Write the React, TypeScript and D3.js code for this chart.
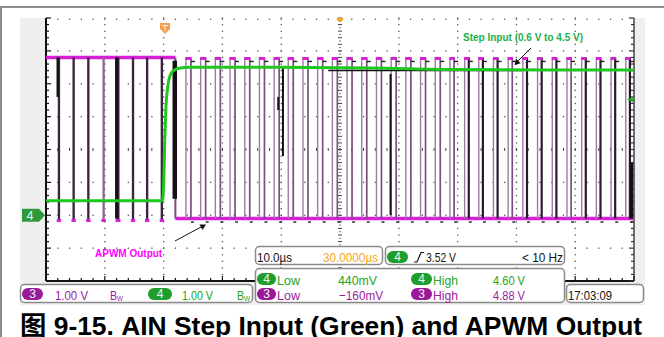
import React from 'react';
import * as d3 from 'd3';

// ---- data ----
const timeDomain = [0, 100]; // µs, 10 µs/div
const divDomain = [-4, 4]; // vertical divisions
const ch3Offset = -2; // div
const ch4Offset = -2; // div

const ch3High = 4.8; // V
const ch3Low = -0.1; // V

// narrow low pulses before the step (µs)
const preLowPulseT = [2.0, 4.5, 7.0, 9.6, 12.0, 14.6, 17.0, 19.5];
const preLowPulseW = [0.4, 0.4, 0.4, 0.4, 0.5, 0.4, 0.4, 0.4];
const preLowPulseDark = [1, 1, 1, 0, 1, 1, 1, 1];
const stepFallT = 22.0;

// narrow high pulses after the step (µs)
const postPulseT = [23.8, 26.3, 28.8, 31.3, 33.8, 36.3, 38.8, 41.2, 43.7, 46.2, 48.7, 51.2, 53.7, 56.2, 58.7, 61.2, 63.7, 66.2, 68.7, 71.2, 73.6, 76.1, 78.6, 81.1, 83.6, 86.1, 88.6, 91.1, 93.6, 96.1, 98.6];
const postPulseW = [0.85, 0.85, 0.85, 0.85, 0.85, 0.85, 0.85, 0.85, 0.85, 0.85, 0.85, 0.85, 0.85, 0.85, 0.85, 0.85, 0.85, 0.85, 0.7, 0.7, 0.7, 0.7, 0.7, 0.7, 0.7, 0.7, 0.7, 0.7, 0.7, 0.7, 0.7];
const postPulseDark = [0, 0, 0, 0, 0, 0, 0, 0, 0, 0, 0, 0, 0, 0, 0, 0, 0, 0, 0, 1, 1, 1, 0, 1, 1, 1, 0, 1, 1, 1, 1];

// green step input (ch4)
const greenT = [0, 19.8, 20.0, 20.2, 20.4, 20.7, 21.1, 21.7, 22.6, 24.5, 40, 55, 70, 85, 100];
const greenV = [0.44, 0.44, 0.9, 2.3, 3.3, 3.9, 4.25, 4.4, 4.47, 4.5, 4.5, 4.48, 4.43, 4.42, 4.42];

// black persistence traces: [t, v1, v2, widthPx]
const ghostT = [2.0, 12.0, 21.9, 39.5, 40.3, 58.6, 99.6];
const ghostV1 = [4.8, 4.8, 4.7, 3.6, 4.5, 4.3, 1.6];
const ghostV2 = [3.6, -0.1, 0.5, 3.2, 1.8, 0.0, -0.1];
const ghostW = [2.5, 3, 4.5, 2, 2, 2, 3];
// black trace along the green plateau
const ghostLineT = [48, 81];
const ghostLineV = 4.45;

const trigLevel = 3.52; // V

const CAPTION = '图 9-15. AIN Step Input (Green) and APWM Output';

const PURPLE = '#9b1b9b';
const GREEN_TXT = '#22a622';
const MAGENTA = '#d81fd8';
const GREEN = '#1ec81e';

function Pill({ x, y, w, h, fill, label }: { x: number; y: number; w: number; h: number; fill: string; label: string }) {
  return (
    <g>
      <rect x={x} y={y} width={w} height={h} rx={h / 2} fill={fill} />
      <text x={x + w / 2} y={y + h - 2.2} fill="#f4f4f4" fontSize={12} textAnchor="middle" fontFamily="'Liberation Sans', Arial, sans-serif">{label}</text>
    </g>
  );
}

function NText({ x, y, len, fill, size = 13.5, children, anchor }: any) {
  return (
    <text x={x} y={y} fill={fill} fontSize={size} textLength={len} lengthAdjust="spacingAndGlyphs" textAnchor={anchor}
      fontFamily="'Liberation Sans Narrow', 'Liberation Sans', Arial, sans-serif">{children}</text>
  );
}

export default function App() {
  const xS = d3.scaleLinear().domain(timeDomain).range([46, 634]);
  const yS = d3.scaleLinear().domain(divDomain).range([281, 18]);
  const y3 = (v: number) => yS(v + ch3Offset);
  const y4 = (v: number) => yS(v + ch4Offset);
  const hiY = y3(ch3High);
  const loY = y3(ch3Low);

  const minorX = d3.range(0, 51).map((i) => xS(i * 2));
  const minorY = d3.range(0, 41).map((i) => yS(-4 + i * 0.2));
  const majorX = d3.range(1, 10).map((i) => xS(i * 10));
  const majorY = d3.range(0, 8).map((i) => yS(4 - i));
  const cx = xS(50);
  const cy = yS(0);

  const dots: JSX.Element[] = [];
  majorY.forEach((yy, i) => {
    if (Math.abs(yy - cy) < 0.1) return;
    minorX.forEach((xx, j) => {
      if (j === 0 || j === 50) return;
      dots.push(<rect key={`h${i}-${j}`} x={xx - 0.6} y={yy + (i === 0 ? 0.6 : -0.6)} width={1.3} height={1.3} fill="#555" />);
    });
  });
  majorX.forEach((xx, i) => {
    if (Math.abs(xx - cx) < 0.1) return;
    minorY.forEach((yy, j) => {
      dots.push(<rect key={`v${i}-${j}`} x={xx - 0.6} y={yy - 0.6} width={1.3} height={1.3} fill="#555" />);
    });
  });
  // center crosshair
  const center: JSX.Element[] = [];
  d3.range(0, 81).forEach((i) => {
    const yy = yS(-4 + i * 0.1);
    center.push(<line key={`cv${i}`} x1={cx - (i % 2 === 0 ? 2 : 0.7)} x2={cx + (i % 2 === 0 ? 2 : 0.7)} y1={yy} y2={yy} stroke="#444" strokeWidth={1} />);
  });
  minorX.forEach((xx, j) => {
    if (j === 0 || j === 50) return;
    center.push(<line key={`ch${j}`} x1={xx} x2={xx} y1={cy - 1.5} y2={cy + 1.5} stroke="#444" strokeWidth={1} />);
  });

  const greenLine = d3.line<number>().x((_, i) => xS(greenT[i])).y((v) => y4(v)).curve(d3.curveMonotoneX)(greenV) || '';

  const pre = preLowPulseT.map((t, i) => {
    const x0 = xS(t);
    const x1 = xS(t + preLowPulseW[i]);
    const col = preLowPulseDark[i] ? '#3e2340' : '#8a6a8c';
    return (
      <g key={`pre${i}`}>
        <rect x={x0} y={hiY} width={x1 - x0} height={loY - hiY + 2} fill={col} />
        <line x1={x0 - 1} x2={x1 + 1} y1={loY + 2} y2={loY + 2} stroke={MAGENTA} strokeWidth={3} />
      </g>
    );
  });

  const post = postPulseT.map((t, i) => {
    const x0 = xS(t);
    const x1 = xS(t + postPulseW[i]);
    const dark = postPulseDark[i];
    return (
      <g key={`post${i}`}>
        <line x1={x0} x2={x0} y1={hiY} y2={loY} stroke="#a07aa4" strokeWidth={1.4} />
        <line x1={x1} x2={x1} y1={hiY} y2={loY} stroke={dark ? '#2a1a2c' : '#7a4f7e'} strokeWidth={dark ? 2.2 : 1.7} />
        <line x1={x0 - 0.5} x2={x1 + 0.5} y1={hiY + 1} y2={hiY + 1} stroke={MAGENTA} strokeWidth={3} />
        <line x1={x1} x2={x1 + 4} y1={hiY + 4} y2={hiY + 4} stroke="#222" strokeWidth={1.4} />
        <line x1={x1} x2={x1 + 3} y1={loY + 3.5} y2={loY + 3.5} stroke="#222" strokeWidth={1.4} />
      </g>
    );
  });

  const ghosts = ghostT.map((t, i) => (
    <line key={`g${i}`} x1={xS(t)} x2={xS(t)} y1={y3(ghostV1[i])} y2={y3(ghostV2[i])} stroke="#141014" strokeWidth={ghostW[i]} />
  ));

  const tickL = minorY.map((yy, i) => (
    <line key={`tl${i}`} x1={46} x2={46 + (i % 5 === 0 ? 5 : 3)} y1={yy} y2={yy} stroke="#111" strokeWidth={1.2} />
  ));
  const tickR = minorY.map((yy, i) => (
    <line key={`tr${i}`} x1={634} x2={634 - (i % 5 === 0 ? 5 : 3)} y1={yy} y2={yy} stroke="#333" strokeWidth={1.2} />
  ));
  const tickB = minorX.map((xx, i) => (
    <line key={`tb${i}`} x1={xx} x2={xx} y1={281} y2={281 - (i % 5 === 0 ? 5 : 3)} stroke="#111" strokeWidth={1.2} />
  ));

  const trigY = y4(trigLevel);
  const ch4Gnd = y4(0);

  return (
    <svg width={664} height={337} style={{ position: 'absolute', left: 0, top: 0 }} fontFamily="'Liberation Sans', Arial, sans-serif">
      <rect x={0} y={0} width={664} height={337} fill="#fff" />
      <path d="M1,337 V7 H664" fill="none" stroke="#8c8c8c" strokeWidth={2} />
      <rect x={20} y={18} width={625} height={287} fill="#efefef" />
      <rect x={46} y={18} width={588} height={263} fill="#fff" />

      {dots}
      {center}

      {/* axes */}
      <line x1={46} x2={46} y1={18} y2={281} stroke="#111" strokeWidth={2} />
      <line x1={46} x2={634} y1={281} y2={281} stroke="#111" strokeWidth={2} />
      <line x1={634} x2={634} y1={18} y2={281} stroke="#444" strokeWidth={1.5} />
      {tickL}
      {tickR}
      {tickB}

      {/* ch3 APWM */}
      <line x1={xS(0)} x2={xS(stepFallT)} y1={hiY} y2={hiY} stroke={MAGENTA} strokeWidth={3.5} />
      <line x1={xS(stepFallT)} x2={xS(100)} y1={loY} y2={loY} stroke={MAGENTA} strokeWidth={3.5} />
      <line x1={xS(stepFallT)} x2={xS(stepFallT)} y1={hiY} y2={loY} stroke="#7a4f7e" strokeWidth={2} />
      {pre}
      {post}
      {ghosts}
      <line x1={xS(ghostLineT[0])} x2={xS(ghostLineT[1])} y1={y4(ghostLineV) + 1.5} y2={y4(ghostLineV) + 1.5} stroke="#111" strokeWidth={1.5} />

      {/* ch4 green */}
      <path d={greenLine} fill="none" stroke={GREEN} strokeWidth={3} />

      {/* markers */}
      <path d={`M22,${ch4Gnd - 6.5} H39 L45,${ch4Gnd} L39,${ch4Gnd + 6.5} H22 Z`} fill="#2c9a3c" />
      <text x={30} y={ch4Gnd + 4.5} fill="#e8f4e8" fontSize={12.5} textAnchor="middle">4</text>
      <path d={`M634,${trigY - 3} L627,${trigY} L634,${trigY + 3} Z`} fill="#20b020" />
      <path d={`M160,23 H170 V29 L165,34 L160,29 Z`} fill="#f0a050" />
      <line x1={162} x2={168} y1={25.5} y2={25.5} stroke="#fde0c0" strokeWidth={1.2} />
      <line x1={165} x2={165} y1={25.5} y2={31} stroke="#fde0c0" strokeWidth={1.2} />
      <path d={`M${cx - 3.5},18 A3.5,3.5 0 0 0 ${cx + 3.5},18 Z`} fill="#f5a623" />

      {/* annotations */}
      <text x={463} y={41} fill="#1bb04a" fontSize={10} fontWeight="bold">Step Input (0.6 V to 4.5 V)</text>
      <line x1={531} x2={517} y1={48} y2={62} stroke="#111" strokeWidth={1} />
      <path d="M514.5,65 L516,58.8 L520.7,63.3 Z" fill="#111" />
      <text x={95} y={257} fill="#ff00ff" fontSize={10} fontWeight="bold">APWM Output</text>
      <line x1={175} x2={202} y1={241} y2={226.5} stroke="#111" strokeWidth={1} />
      <path d="M206,224.5 L199.5,224.6 L202.5,230 Z" fill="#111" />

      {/* status bar */}
      <rect x={20.5} y={284.5} width={232} height={18} rx={4} fill="#fff" stroke="#8a8a8a" strokeWidth={1.5} />
      <Pill x={22} y={288} w={21} h={12} fill="#9a189a" label="3" />
      <NText x={55} y={299.5} len={33} fill={PURPLE}>1.00 V</NText>
      <NText x={110} y={299.5} len={7} fill={PURPLE} size={12}>B</NText>
      <NText x={117} y={301} len={6} fill={PURPLE} size={8}>W</NText>
      <Pill x={148} y={288} w={24} h={12} fill="#1d9e2d" label="4" />
      <NText x={182} y={299.5} len={31} fill={GREEN_TXT}>1.00 V</NText>
      <NText x={237} y={299.5} len={7} fill={GREEN_TXT} size={12}>B</NText>
      <NText x={244} y={301} len={6} fill={GREEN_TXT} size={8}>W</NText>

      <rect x={255.5} y={246.5} width={127} height={18} rx={4} fill="#fff" stroke="#8a8a8a" strokeWidth={1.5} />
      <NText x={257} y={261.5} len={35} fill="#111">10.0µs</NText>
      <NText x={323} y={261.5} len={55} fill="#f5a623">30.0000µs</NText>

      <rect x={385.5} y={246.5} width={179} height={18} rx={4} fill="#fff" stroke="#8a8a8a" strokeWidth={1.5} />
      <Pill x={387} y={251} w={21} h={12} fill="#1d9e2d" label="4" />
      <path d="M414,262 H417 L421,252.5 H424" fill="none" stroke="#111" strokeWidth={1.2} />
      <NText x={426} y={261.5} len={30} fill="#111">3.52 V</NText>
      <NText x={522} y={261.5} len={41} fill="#111">&lt; 10 Hz</NText>

      <rect x={255.5} y={268.5} width={309} height={34} rx={4} fill="#fff" stroke="#8a8a8a" strokeWidth={1.5} />
      <Pill x={257} y={273} w={19} h={12} fill="#1d9e2d" label="4" />
      <NText x={277} y={284.5} len={23} fill={GREEN_TXT}>Low</NText>
      <NText x={338} y={284.5} len={39} fill={GREEN_TXT}>440mV</NText>
      <Pill x={411} y={273} w={21} h={12} fill="#1d9e2d" label="4" />
      <NText x={433} y={284.5} len={25} fill={GREEN_TXT}>High</NText>
      <NText x={493} y={284.5} len={32} fill={GREEN_TXT}>4.60 V</NText>
      <Pill x={257} y={288} w={19} h={12} fill="#9a189a" label="3" />
      <NText x={277} y={299.5} len={23} fill={PURPLE}>Low</NText>
      <NText x={339} y={299.5} len={44} fill={PURPLE}>−160mV</NText>
      <Pill x={411} y={288} w={21} h={12} fill="#9a189a" label="3" />
      <NText x={433} y={299.5} len={25} fill={PURPLE}>High</NText>
      <NText x={493} y={299.5} len={32} fill={PURPLE}>4.88 V</NText>

      <rect x={566.5} y={284.5} width={77} height={18} rx={4} fill="#fff" stroke="#8a8a8a" strokeWidth={1.5} />
      <NText x={568} y={299.5} len={44} fill="#111">17:03:09</NText>

      {/* caption */}
      <text x={20} y={334.5} fontSize={26.4} fontWeight="bold" fill="#000"
        fontFamily="'Liberation Sans', Arial, 'Noto Sans CJK SC', sans-serif">{CAPTION}</text>
    </svg>
  );
}
